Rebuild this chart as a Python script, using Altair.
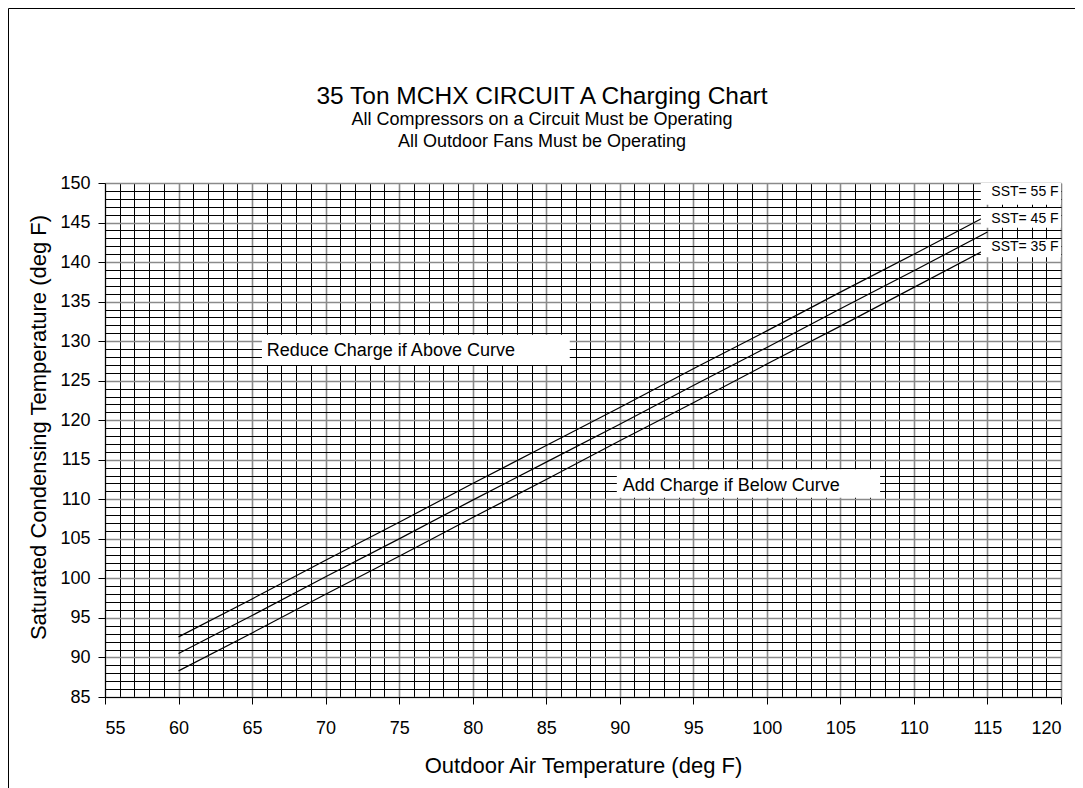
import altair as alt
import pandas as pd

FONT = "Liberation Sans"

# ---- data ----
oat = [60, 65, 70, 75, 80, 85, 90, 95, 100, 105, 110, 115]
sct_sst55 = [92.6, 97.4, 102.3, 107.1, 112.0, 116.8, 121.6, 126.5, 131.3, 136.2, 141.0, 145.9]
sct_sst45 = [90.5, 95.3, 100.2, 105.0, 109.9, 114.7, 119.5, 124.4, 129.2, 134.1, 138.9, 143.8]
sct_sst35 = [88.3, 93.1, 98.0, 102.8, 107.7, 112.5, 117.4, 122.2, 127.1, 131.9, 136.8, 141.7]
series_names = ["SST= 55 F", "SST= 45 F", "SST= 35 F"]

# right-hand curve labels
label_x = [117.55, 117.55, 117.55]
label_text_y = [148.9, 145.5, 141.85]
label_box_x1 = [114.55, 114.55, 114.55]
label_box_x2 = [120.0, 120.0, 120.0]
label_box_top = [150.0, 146.85, 142.9]
label_box_bottom = [147.25, 144.35, 140.6]

# in-plot notes
note_texts = ["Reduce Charge if Above Curve", "Add Charge if Below Curve"]
note_x = [66.0, 90.2]
note_y = [128.8, 111.7]
note_box_x1 = [65.67, 89.8]
note_box_x2 = [86.6, 107.7]
note_box_y1 = [130.8, 113.8]
note_box_y2 = [127.0, 110.2]

title_lines = [
    "35 Ton MCHX CIRCUIT A Charging Chart",
    "All Compressors on a Circuit Must be Operating",
    "All Outdoor Fans Must be Operating",
]

x_grid_values = list(range(55, 121))
y_grid_values = list(range(85, 151))

# ---- tables ----
rows = []
for name, vals in zip(series_names, [sct_sst55, sct_sst45, sct_sst35]):
    for xv, yv in zip(oat, vals):
        rows.append({"series": name, "oat": xv, "sct": yv})
curves = pd.DataFrame(rows)

labels = pd.DataFrame({
    "text": series_names, "x": label_x, "y": label_text_y,
    "x1": label_box_x1, "x2": label_box_x2,
    "y1": label_box_top, "y2": label_box_bottom,
})
notes = pd.DataFrame({
    "text": note_texts, "x": note_x, "y": note_y,
    "x1": note_box_x1, "x2": note_box_x2,
    "y1": note_box_y1, "y2": note_box_y2,
})

xscale = alt.Scale(domain=[55, 120], nice=False, zero=False)
yscale = alt.Scale(domain=[85, 150], nice=False, zero=False)

major = "datum.value % 5 === 0"

x_axis = alt.Axis(
    values=x_grid_values,
    title="Outdoor Air Temperature (deg F)",
    grid=True,
    gridColor={"condition": {"test": major, "value": "#8a8a8a"}, "value": "#000000"},
    gridWidth={"condition": {"test": major, "value": 1.6}, "value": 1},
    gridOpacity=1,
    labelExpr="datum.value % 5 === 0 ? datum.label : ''",
    labelOverlap=False,
    labelFont=FONT, labelFontSize=18, labelColor="black", labelPadding=15,
    tickColor="black", tickSize=7,
    tickOpacity={"condition": {"test": major, "value": 1}, "value": 0},
    domainColor="black", domainWidth=1,
    titleFont=FONT, titleFontSize=22, titleFontWeight="normal", titleColor="black",
    titlePadding=18,
)
y_axis = alt.Axis(
    values=y_grid_values,
    title="Saturated Condensing Temperature (deg F)",
    grid=True,
    gridColor={"condition": {"test": major, "value": "#8a8a8a"}, "value": "#000000"},
    gridWidth={"condition": {"test": major, "value": 1.6}, "value": 1},
    gridOpacity=1,
    labelExpr="datum.value % 5 === 0 ? datum.label : ''",
    labelOverlap=False,
    labelFont=FONT, labelFontSize=18, labelColor="black", labelPadding=8,
    tickColor="black", tickSize=7,
    tickOpacity={"condition": {"test": major, "value": 1}, "value": 0},
    domainColor="black", domainWidth=1,
    titleFont=FONT, titleFontSize=22, titleFontWeight="normal", titleColor="black",
    titlePadding=9, titleY=244,
)


def X(field):
    return alt.X(field, type="quantitative", scale=xscale, axis=x_axis)


def Y(field):
    return alt.Y(field, type="quantitative", scale=yscale, axis=y_axis)


lines = alt.Chart(curves).mark_line(color="black", strokeWidth=1.2).encode(
    x=X("oat"), y=Y("sct"), detail="series:N",
)

label_boxes = alt.Chart(labels).mark_rect(fill="white").encode(
    x=X("x1"), x2="x2:Q", y=Y("y1"), y2="y2:Q",
)
label_text = alt.Chart(labels).mark_text(
    font=FONT, fontSize=14, color="black", align="center", baseline="middle"
).encode(x=X("x"), y=Y("y"), text="text:N")

note_boxes = alt.Chart(notes).mark_rect(fill="white").encode(
    x=X("x1"), x2="x2:Q", y=Y("y1"), y2="y2:Q",
)
note_text = alt.Chart(notes).mark_text(
    font=FONT, fontSize=18, color="black", align="left", baseline="middle"
).encode(x=X("x"), y=Y("y"), text="text:N")

dummy = alt.Data(values=[{}])
title_main = alt.Chart(dummy).mark_text(
    font=FONT, fontSize=24.5, color="black", align="center", baseline="middle"
).encode(x=alt.value(437), y=alt.value(-86), text=alt.value(title_lines[0]))
title_sub1 = alt.Chart(dummy).mark_text(
    font=FONT, fontSize=18, color="black", align="center", baseline="middle"
).encode(x=alt.value(437), y=alt.value(-63), text=alt.value(title_lines[1]))
title_sub2 = alt.Chart(dummy).mark_text(
    font=FONT, fontSize=18, color="black", align="center", baseline="middle"
).encode(x=alt.value(437), y=alt.value(-41), text=alt.value(title_lines[2]))

frame = alt.Chart(dummy).mark_rect(fill=None, stroke="black", strokeWidth=1).encode(
    x=alt.value(-96.5), x2=alt.value(1200), y=alt.value(-174.5), y2=alt.value(900)
)

chart = alt.layer(
    lines, note_boxes, note_text, label_boxes, label_text,
    title_main, title_sub1, title_sub2, frame,
).properties(
    width=956, height=514,
    padding={"left": 97, "top": 175, "right": 14, "bottom": 93},
    autosize=alt.AutoSizeParams(type="none"),
).configure(background="white").configure_view(stroke=None)

chart.save("out.html", embed_options={"renderer": "svg", "actions": False})
